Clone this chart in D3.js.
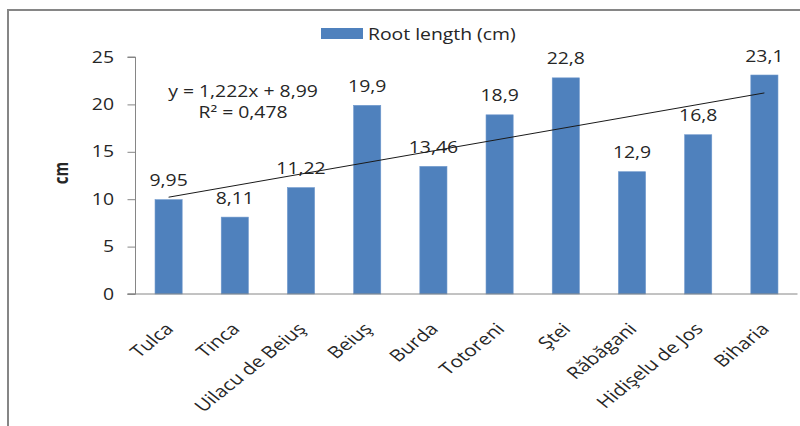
<!DOCTYPE html>
<html>
<head>
<meta charset="utf-8">
<script src="https://cdn.jsdelivr.net/npm/d3@7"></script>
<style>
  html, body { margin: 0; padding: 0; background: #fff; }
  svg { display: block; }
  text { font-family: "Open Sans", "DejaVu Sans", sans-serif; fill: #262626; }
</style>
</head>
<body>
<svg id="chart" width="800" height="426"></svg>
<script>
// Root length per locality (cm)
const categories = ["Tulca", "Tinca", "Uilacu de Beiuş", "Beiuş", "Burda", "Totoreni", "Ştei", "Răbăgani", "Hidişelu de Jos", "Biharia"];
const rootLength = [9.95, 8.11, 11.22, 19.9, 13.46, 18.9, 22.8, 12.9, 16.8, 23.1];
const valueLabels = ["9,95", "8,11", "11,22", "19,9", "13,46", "18,9", "22,8", "12,9", "16,8", "23,1"];
const yTicks = [0, 5, 10, 15, 20, 25];
const seriesName = "Root length (cm)";
const yTitle = "cm";
// Linear trend over category index 1..n
const trendSlope = 1.222;
const trendIntercept = 8.99;
const trendR2 = 0.478;
const trendLabels = ["y = 1,222x + 8,99", "R² = 0,478"];

const svg = d3.select("#chart");
const SX = 1.25;          // horizontal stretch of lettering
const FS = 15.5;
const FSX = 16.5;         // category labels
const barColor = "#4F81BD";
const axisColor = "#868686";

// Outer frame
svg.append("rect")
  .attr("x", 8).attr("y", 10).attr("width", 810).attr("height", 440)
  .attr("fill", "none").attr("stroke", axisColor).attr("stroke-width", 2);

const plot = { left: 135.5, right: 797.5, top: 57, bottom: 294 };

const x = d3.scaleBand()
  .domain(categories)
  .range([plot.left, plot.right])
  .paddingInner(0.59)
  .paddingOuter(0.295);

const y = d3.scaleLinear().domain([0, 25]).range([plot.bottom, plot.top]);

// Bars
svg.append("g").selectAll("rect")
  .data(categories)
  .join("rect")
  .attr("x", d => x(d))
  .attr("y", (d, i) => y(rootLength[i]))
  .attr("width", x.bandwidth())
  .attr("height", (d, i) => y(0) - y(rootLength[i]))
  .attr("fill", barColor)
  .attr("stroke", "#6d97cc")
  .attr("stroke-width", 0.6);

// Y axis
const yAxis = svg.append("g")
  .attr("transform", `translate(${plot.left},0)`)
  .call(d3.axisLeft(y).tickValues(yTicks).tickSize(8).tickFormat(""));
yAxis.select(".domain").attr("stroke", axisColor).attr("d", `M-8,${plot.top}H0V${plot.bottom}H-8`);
yAxis.selectAll(".tick line").attr("stroke", axisColor);

svg.append("g").selectAll("text")
  .data(yTicks)
  .join("text")
  .attr("transform", d => `translate(114,${y(d) + 5.5}) scale(${SX},1)`)
  .attr("text-anchor", "end")
  .style("font-size", FS + "px")
  .text(d => d);

// X axis
const xAxis = svg.append("g")
  .attr("transform", `translate(0,${plot.bottom})`)
  .call(d3.axisBottom(x).tickSize(0).tickFormat(""));
xAxis.select(".domain").attr("stroke", axisColor).attr("d", `M${plot.left - 8},0H${plot.right}`);

svg.append("g").selectAll("text")
  .data(categories)
  .join("text")
  .attr("transform", d => `translate(${x(d) + x.bandwidth() / 2 + 6},${plot.bottom + 36}) scale(${SX},1) rotate(-45)`)
  .attr("text-anchor", "end")
  .style("font-size", FSX + "px")
  .text(d => d);

// Value labels
svg.append("g").selectAll("text")
  .data(categories)
  .join("text")
  .attr("transform", (d, i) => `translate(${x(d) + x.bandwidth() / 2},${y(rootLength[i]) - 13.5}) scale(${SX},1)`)
  .attr("text-anchor", "middle")
  .style("font-size", FS + "px")
  .text((d, i) => valueLabels[i]);

// Trend line
const n = rootLength.length;
const cx = i => x(categories[i]) + x.bandwidth() / 2;
svg.append("line")
  .attr("x1", cx(0)).attr("y1", y(trendIntercept + trendSlope * 1))
  .attr("x2", cx(n - 1)).attr("y2", y(trendIntercept + trendSlope * n))
  .attr("stroke", "#1a1a1a").attr("stroke-width", 1);

svg.append("g").selectAll("text")
  .data(trendLabels)
  .join("text")
  .attr("transform", (d, i) => `translate(243,${97 + i * 21}) scale(${SX},1)`)
  .attr("text-anchor", "middle")
  .style("font-size", FS + "px")
  .text(d => d);

// Y axis title
svg.append("text")
  .attr("transform", `translate(68,173) scale(${SX},1) rotate(-90)`)
  .attr("text-anchor", "middle")
  .style("font-size", "15px")
  .style("font-weight", "bold")
  .text(yTitle);

// Legend
svg.append("rect")
  .attr("x", 321).attr("y", 28).attr("width", 42).attr("height", 11)
  .attr("fill", barColor);
svg.append("text")
  .attr("transform", `translate(368,39.5) scale(${SX},1)`)
  .style("font-size", FS + "px")
  .text(seriesName);
</script>
</body>
</html>
